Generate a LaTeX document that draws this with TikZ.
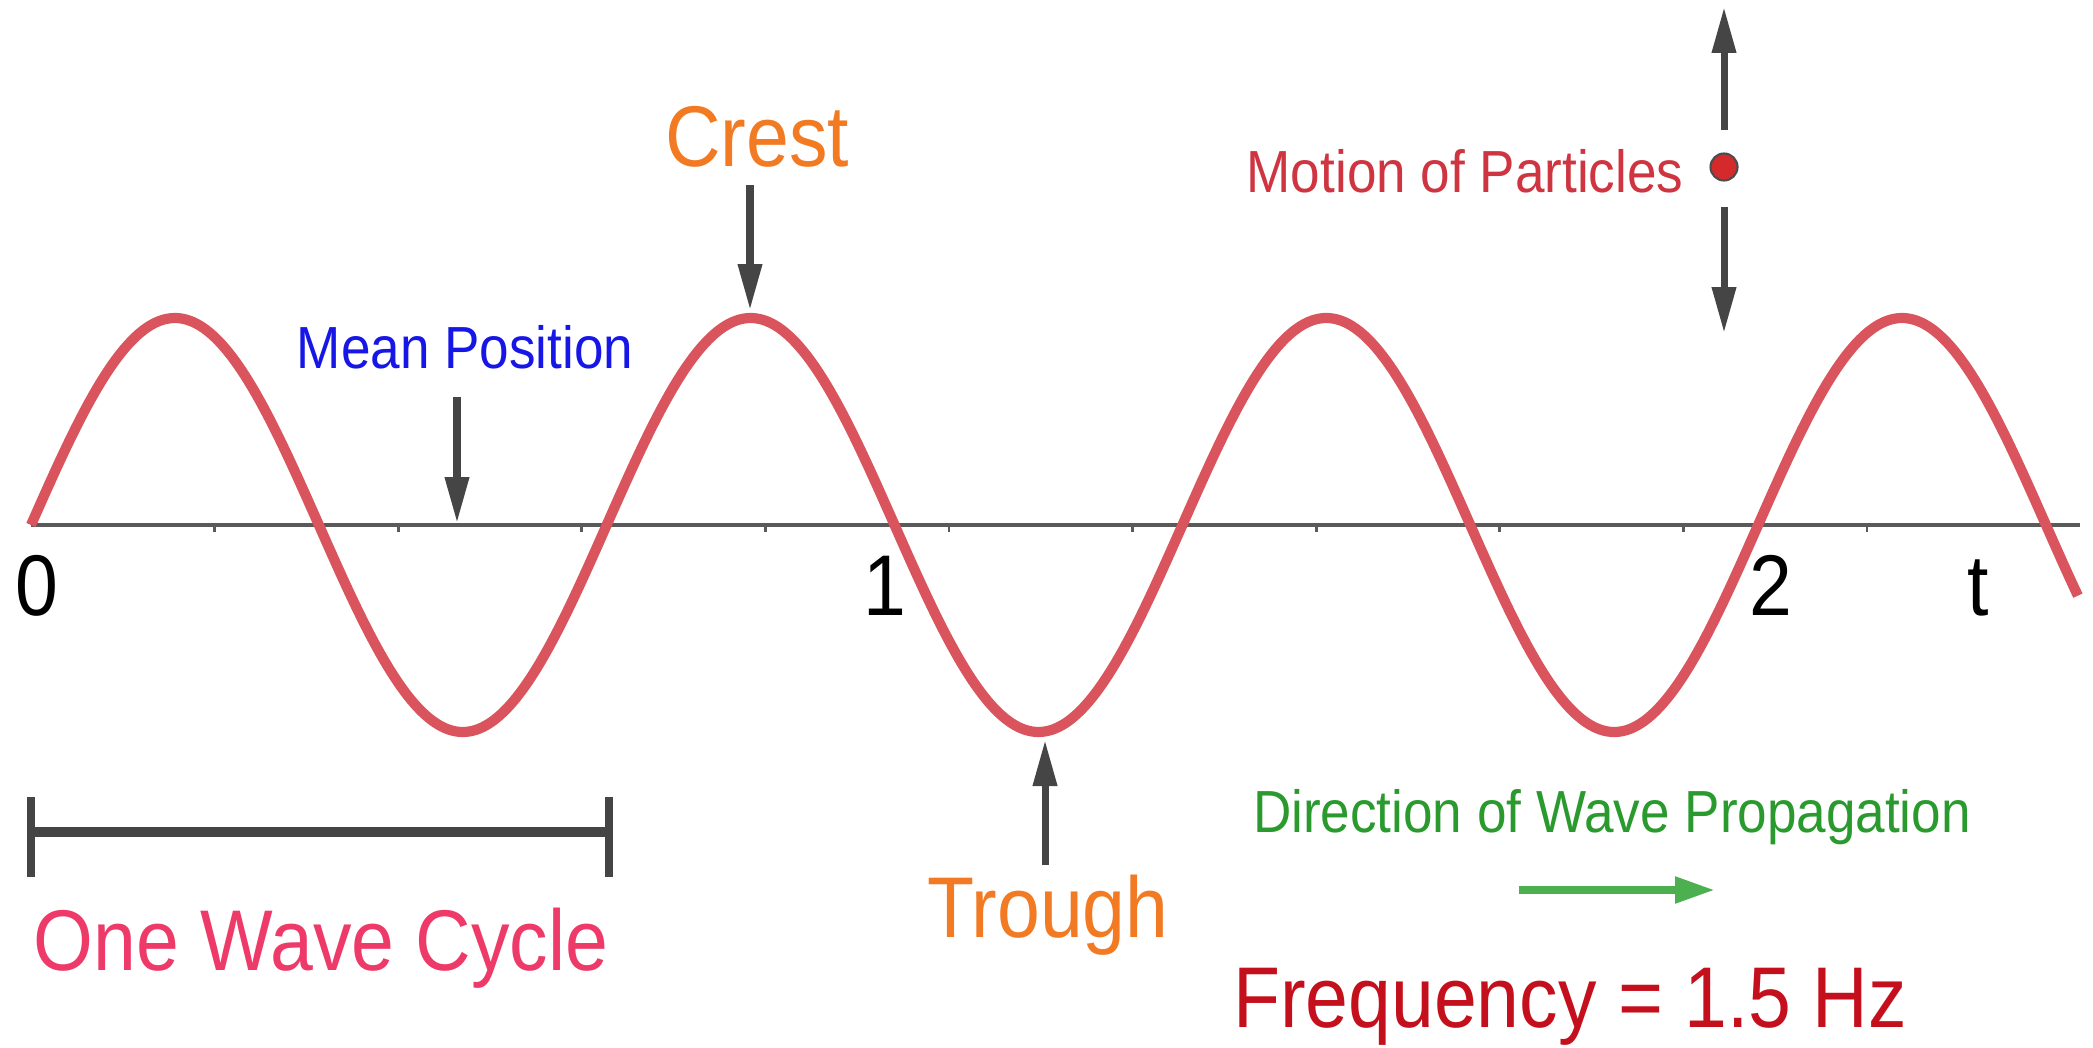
\documentclass[tikz,border=0pt]{standalone}
\usepackage{fontspec}
\setmainfont{Liberation Sans}
\usepackage{tikz}
\usetikzlibrary{arrows.meta,calc,positioning}
\definecolor{Wave_Red}{HTML}{D9545C}
\definecolor{Crest_Orange}{HTML}{F27A22}
\definecolor{Mean_Blue}{HTML}{1616E6}
\definecolor{Particle_Red}{HTML}{CF3441}
\definecolor{Dot_Red}{HTML}{D42A2C}
\definecolor{Cycle_Pink}{HTML}{EE3A68}
\definecolor{Prop_Green}{HTML}{2A9A2E}
\definecolor{Arrow_Green}{HTML}{4CAF50}
\definecolor{Freq_Red}{HTML}{C4101C}
\definecolor{Arrow_Gray}{HTML}{454545}
\definecolor{Axis_Gray}{HTML}{5A5A5A}
\newcommand{\stretchtxt}[1]{\scalebox{1}[1.12]{#1}}

\begin{document}
\begin{tikzpicture}[>=Stealth, scale=1.0,
    bigtext/.style={font=\fontsize{21.9}{26}\selectfont, anchor=base, inner sep=0pt},
    smalltext/.style={font=\fontsize{15.1}{18}\selectfont, anchor=base, inner sep=0pt},
    pointer/.style={line width=2pt, Arrow_Gray, -{Triangle[length=4.6mm, width=2.3mm]}}]
    \useasboundingbox (0,0) rectangle (20.93,10.47);

    % Time axis
    \pgfmathsetmacro{\axisy}{5.22}
    \pgfmathsetmacro{\period}{5.757}
    \draw[line width=1pt, Axis_Gray] (0.31,\axisy) -- (20.80,\axisy);
    \foreach \k in {1,...,10}
        \draw[line width=0.8pt, Axis_Gray] ({0.31+1.836*\k},\axisy) -- ++(0,-0.07);

    % Wave (1.5 Hz)
    \draw[line width=2.9pt, Wave_Red, line join=round, domain=0.31:20.78, samples=400, smooth]
        plot (\x,{\axisy+2.07*sin(360*(\x-0.31)/\period)});

    % Axis labels
    \node[bigtext] (tzero) at (0.37,4.32) {\stretchtxt{0}};
    \node[bigtext] (tone) at (8.85,4.32) {\stretchtxt{1}};
    \node[bigtext] (ttwo) at (17.71,4.32) {\stretchtxt{2}};
    \node[bigtext] (tlabel) at (19.78,4.32) {\stretchtxt{t}};

    % Crest
    \node[bigtext, Crest_Orange] (crest) at (7.57,8.80) {\stretchtxt{Crest}};
    \coordinate (crest tail) at (7.50,8.62);
    \coordinate (crest top) at (7.50,7.37);
    \draw[pointer] (crest tail) -- (crest top);

    % Mean position
    \node[smalltext, Mean_Blue] (mean) at (4.65,6.79) {\stretchtxt{Mean Position}};
    \coordinate (mean tail) at (4.57,6.50);
    \coordinate (mean pt) at (4.57,5.24);
    \draw[pointer] (mean tail) -- (mean pt);

    % Trough
    \node[bigtext, Crest_Orange] (trough) at (10.48,1.10) {\stretchtxt{Trough}};
    \coordinate (trough tail) at (10.45,1.82);
    \coordinate (trough bottom) at (10.45,3.07);
    \draw[pointer] (trough tail) -- (trough bottom);

    % Motion of particles
    \node[smalltext, Particle_Red] (motion) at (14.65,8.54) {\stretchtxt{Motion of Particles}};
    \node[circle, fill=Dot_Red, draw=black!70, line width=0.6pt, minimum size=0.27cm, inner sep=0pt] (particle) at (17.24,8.80) {};
    \coordinate (up tail) at (17.24,9.17);
    \coordinate (up tip) at (17.24,10.40);
    \coordinate (down tail) at (17.24,8.40);
    \coordinate (down tip) at (17.24,7.14);
    \draw[pointer] (up tail) -- (up tip);
    \draw[pointer] (down tail) -- (down tip);

    % One wave cycle
    \coordinate (cycle start) at (0.31,2.15);
    \coordinate (cycle end) at (6.09,2.15);
    \draw[line width=2.6pt, Arrow_Gray] (cycle start) -- (cycle end);
    \draw[line width=2pt, Arrow_Gray] ($(cycle start)+(0,0.35)$) -- ($(cycle start)-(0,0.45)$);
    \draw[line width=2pt, Arrow_Gray] ($(cycle end)+(0,0.35)$) -- ($(cycle end)-(0,0.45)$);
    \node[bigtext, Cycle_Pink] (cycle) at (3.21,0.77) {\stretchtxt{One Wave Cycle}};

    % Direction of propagation
    \node[smalltext, Prop_Green] (direction) at (16.12,2.15) {\stretchtxt{Direction of Wave Propagation}};
    \coordinate (prop tail) at (15.19,1.57);
    \coordinate (prop tip) at (17.15,1.57);
    \draw[line width=2.3pt, Arrow_Green, -{Triangle[length=4mm, width=2.5mm]}] (prop tail) -- (prop tip);

    % Frequency
    \node[bigtext, Freq_Red] (freq) at (15.70,0.20) {\stretchtxt{Frequency = 1.5 Hz}};

\end{tikzpicture}
\end{document}
